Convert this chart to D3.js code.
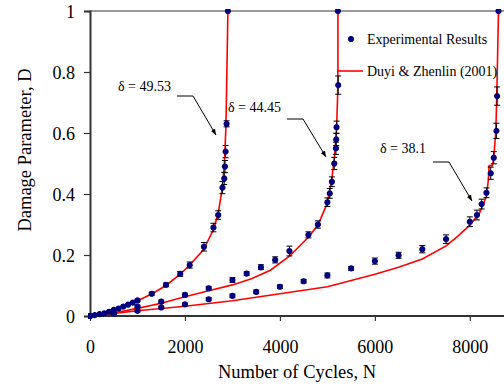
<!DOCTYPE html>
<html><head><meta charset="utf-8">
<script src="https://cdn.jsdelivr.net/npm/d3@7"></script>
<style>body{margin:0;background:#fff}svg{display:block}text{font-family:"Liberation Serif","Times New Roman",serif}</style>
</head><body><svg id="c" width="504" height="385"></svg>
<script>
// ---- data ----
const xTicks = [0, 2000, 4000, 6000, 8000];
const yTicks = [0, 0.2, 0.4, 0.6, 0.8, 1];
const yTickLabels = ["0", "0.2", "0.4", "0.6", "0.8", "1"];

const expA_N = [0,100,200,300,400,500,600,700,800,900,1000,1300,1600,1900,2100,2400,2600,2700,2790,2828,2842,2856,2877,2905];
const expA_D = [0,0.003,0.006,0.009,0.014,0.02,0.024,0.031,0.037,0.044,0.051,0.073,0.102,0.138,0.167,0.227,0.29,0.331,0.421,0.451,0.49,0.539,0.63,1.0];
const expA_E = [0,0,0,0,0,0,0,0,0,0,0.004,0.005,0.006,0.008,0.01,0.014,0.014,0.014,0.02,0.02,0.02,0.02,0.01,0];

const expB_N = [0,500,1000,1500,2000,2500,3000,3300,3600,3900,4200,4600,4800,5000,5050,5095,5145,5180,5186,5193,5228,5221];
const expB_D = [0,0.012,0.031,0.047,0.069,0.091,0.118,0.139,0.16,0.184,0.213,0.266,0.30,0.373,0.402,0.44,0.50,0.55,0.579,0.619,0.757,1.0];
const expB_E = [0,0.004,0.004,0.005,0.006,0.006,0.008,0.006,0.008,0.01,0.016,0.01,0.012,0.014,0.016,0.016,0.02,0.02,0.02,0.02,0.03,0];

const expC_N = [0,500,1000,1500,2000,2500,3000,3500,4000,4500,5000,5500,6000,6500,7000,7500,8000,8150,8250,8350,8440,8505,8560,8575,8604];
const expC_D = [0,0.008,0.017,0.028,0.038,0.055,0.066,0.079,0.096,0.114,0.133,0.156,0.18,0.199,0.219,0.252,0.309,0.331,0.367,0.404,0.468,0.519,0.607,0.721,1.0];
const expC_E = [0,0.003,0.004,0.004,0.005,0.005,0.006,0.006,0.006,0.006,0.008,0.006,0.01,0.01,0.012,0.014,0.016,0.016,0.016,0.016,0.02,0.02,0.025,0.03,0];

const modA_N = [0,250,500,750,1000,1300,1600,1900,2100,2386,2597,2702,2786,2828,2863,2905];
const modA_D = [0,0.007,0.018,0.033,0.05,0.072,0.1,0.137,0.167,0.216,0.282,0.337,0.419,0.49,0.62,1.0];

const modB_N = [0,500,1000,1500,2000,2500,3000,3400,3800,4200,4600,4800,5000,5090,5150,5195,5215,5222,5222];
const modB_D = [0,0.01,0.025,0.042,0.063,0.083,0.102,0.122,0.15,0.196,0.258,0.298,0.37,0.446,0.52,0.62,0.72,0.81,1.0];

const modC_N = [0,500,1000,2000,3000,4000,5000,6000,6500,7000,7500,7750,8000,8200,8350,8390,8407,8478,8505,8547,8568,8604];
const modC_D = [0,0.008,0.017,0.032,0.05,0.073,0.096,0.137,0.16,0.187,0.23,0.262,0.298,0.336,0.392,0.446,0.493,0.493,0.522,0.604,0.72,1.0];

const labels = ["\u03b4 = 49.53", "\u03b4 = 44.45", "\u03b4 = 38.1"];
const legendLabels = ["Experimental Results", "Duyi & Zhenlin (2001)"];

// ---- layout ----
const svg = d3.select("#c");
const x = d3.scaleLinear().domain([0, 8720]).range([90, 504]);
const y = d3.scaleLinear().domain([0, 1]).range([316, 11]);

svg.append("defs").append("clipPath").attr("id","clip")
  .append("rect").attr("x",88).attr("y",9).attr("width",420).attr("height",310);

// top border
svg.append("line").attr("x1",90).attr("x2",504).attr("y1",y(1)).attr("y2",y(1))
  .attr("stroke","#7a7a7a").attr("stroke-width",1.5);

// axes
const xAxis = svg.append("g").attr("transform","translate(0,316)")
  .call(d3.axisBottom(x).tickValues(xTicks).tickSize(5).tickFormat(d3.format("d")));
const yAxis = svg.append("g").attr("transform","translate(90,0)")
  .call(d3.axisLeft(y).tickValues(yTicks).tickSize(6).tickFormat((d,i)=>yTickLabels[i]));
[xAxis, yAxis].forEach(g=>{
  g.select(".domain").attr("stroke","#333").attr("stroke-width",2);
  g.selectAll(".tick line").attr("stroke","#333").attr("stroke-width",1.2);
  g.selectAll(".tick text").attr("fill","#000").style("font-size","18px")
   .style("font-family",'"Liberation Serif",serif');
});
xAxis.select(".domain").attr("d","M90,0H504");
xAxis.selectAll(".tick text").attr("dy","0").attr("y",37);
yAxis.selectAll(".tick text").attr("x",-15).attr("dy","0.34em");

// axis titles
svg.append("text").attr("x",297).attr("y",378).attr("text-anchor","middle")
  .style("font-size","18.5px").text("Number of Cycles, N");
svg.append("text").attr("transform","translate(31,150) rotate(-90)").attr("text-anchor","middle")
  .style("font-size","18.5px").text("Damage Parameter, D");

const plot = svg.append("g").attr("clip-path","url(#clip)");

// model curves
const line = d3.line().x(d=>x(d[0])).y(d=>y(d[1]));
[[modA_N,modA_D],[modB_N,modB_D],[modC_N,modC_D]].forEach(([n,dv])=>{
  plot.append("path").datum(n.map((v,i)=>[v,dv[i]])).attr("d",line)
    .attr("fill","none").attr("stroke","#ff0000").attr("stroke-width",1.6);
});

// experimental points with error bars
const marker = d3.symbol().type(d3.symbolCircle).size(18);
[[expA_N,expA_D,expA_E],[expB_N,expB_D,expB_E],[expC_N,expC_D,expC_E]].forEach(([n,dv,e])=>{
  const pts = n.map((v,i)=>({n:v,d:dv[i],e:e[i]}));
  const eb = plot.append("g").attr("stroke","#000").attr("stroke-width",1);
  pts.filter(p=>p.e>0).forEach(p=>{
    const cx = x(p.n), y1 = y(p.d+p.e), y2 = y(p.d-p.e);
    eb.append("line").attr("x1",cx).attr("x2",cx).attr("y1",y1).attr("y2",y2);
    eb.append("line").attr("x1",cx-3).attr("x2",cx+3).attr("y1",y1).attr("y2",y1);
    eb.append("line").attr("x1",cx-3).attr("x2",cx+3).attr("y1",y2).attr("y2",y2);
  });
  plot.append("g").selectAll("path").data(pts).join("path")
    .attr("transform",p=>`translate(${x(p.n)},${y(p.d)})`)
    .attr("d",marker)
    .attr("fill","#000080").attr("stroke","#000080").attr("stroke-width",1.4);
});

// annotations
const ann = [
  {t:labels[0], tx:118, ty:91, p:[[177,96],[193,96],[216,135]]},
  {t:labels[1], tx:228, ty:112, p:[[287,119],[303,119],[326,157]]},
  {t:labels[2], tx:380, ty:153, p:[[433,162],[449,162],[472,201]]}
];
svg.append("defs").append("marker").attr("id","arr").attr("viewBox","0 0 10 10")
  .attr("refX",10).attr("refY",5).attr("markerWidth",6).attr("markerHeight",6)
  .attr("orient","auto").append("path").attr("d","M0,1L10,5L0,9z").attr("fill","#000");
ann.forEach(a=>{
  svg.append("text").attr("x",a.tx).attr("y",a.ty).style("font-size","14px").text(a.t);
  svg.append("path").attr("d",d3.line()(a.p)).attr("fill","none").attr("stroke","#000")
    .attr("stroke-width",1).attr("marker-end","url(#arr)");
});

// legend
svg.append("path").attr("transform","translate(351,39)")
  .attr("d",marker).attr("fill","#000080").attr("stroke","#000080").attr("stroke-width",1.4);
svg.append("text").attr("x",367).attr("y",44).style("font-size","14px").text(legendLabels[0]);
svg.append("line").attr("x1",337).attr("x2",363).attr("y1",71).attr("y2",71)
  .attr("stroke","#ff0000").attr("stroke-width",1.6);
svg.append("text").attr("x",367).attr("y",76).style("font-size","14px").text(legendLabels[1]);
</script></body></html>
